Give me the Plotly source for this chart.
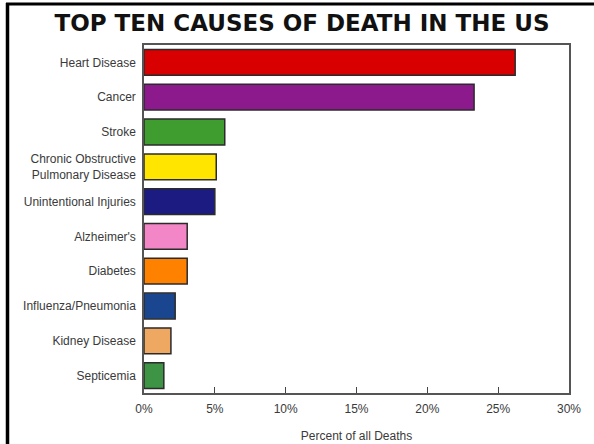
import plotly.graph_objects as go

# Leading causes of death, share of all deaths (%)
causes = [
    "Heart Disease",
    "Cancer",
    "Stroke",
    "Chronic Obstructive<br>Pulmonary Disease",
    "Unintentional Injuries",
    "Alzheimer's",
    "Diabetes",
    "Influenza/Pneumonia",
    "Kidney Disease",
    "Septicemia",
]
percent = [26.2, 23.3, 5.7, 5.1, 5.0, 3.05, 3.05, 2.2, 1.9, 1.4]
bar_colors = [
    "#d80000", "#8c1a8c", "#3f9c2e", "#ffe500", "#1b1b82",
    "#f386c6", "#ff8100", "#1a4690", "#eea862", "#3d9444",
]
x_ticks = [0, 5, 10, 15, 20, 25, 30]

W, H = 594, 444
ML, MR, MT, MB = 144, 25, 45, 51

fig = go.Figure(
    go.Bar(
        x=percent,
        y=causes,
        orientation="h",
        marker=dict(color=bar_colors, line=dict(color="#2b2b2b", width=1.5)),
        width=0.74,
        hoverinfo="x+y",
    )
)

fig.update_layout(
    width=W,
    height=H,
    margin=dict(l=ML, r=MR, t=MT, b=MB),
    paper_bgcolor="white",
    plot_bgcolor="white",
    showlegend=False,
    font=dict(family="Liberation Sans, Arial, sans-serif", size=12, color="#3a3a3a"),
    title=dict(
        text="<b>TOP TEN CAUSES OF DEATH IN THE US</b>",
        x=302 / W,
        xanchor="center",
        xref="container",
        y=1 - 23 / H,
        yanchor="middle",
        yref="container",
        font=dict(family="DejaVu Sans, sans-serif", size=23, color="#111111"),
    ),
)

fig.update_xaxes(
    range=[0, 30],
    tickvals=x_ticks,
    ticktext=[f"{v}%" for v in x_ticks],
    ticks="inside",
    ticklen=6,
    tickcolor="#444",
    ticklabelstandoff=4,
    showgrid=False,
    zeroline=False,
    showline=True,
    linecolor="#555",
    linewidth=1.5,
    mirror=True,
    automargin=False,
    tickfont=dict(size=12, color="#3a3a3a"),
    title=dict(text="Percent of all Deaths", font=dict(size=12, color="#3a3a3a"), standoff=16),
)

fig.update_yaxes(
    autorange="reversed",
    showgrid=False,
    zeroline=False,
    showline=True,
    linecolor="#555",
    linewidth=1.5,
    mirror=True,
    automargin=False,
    ticks="",
    ticklabelstandoff=4,
    tickfont=dict(size=12, color="#3a3a3a"),
)

# Heavy black edge along the left and top of the page
pw = W - ML - MR
ph = H - MT - MB
def px_x(v):
    return (v - ML) / pw
def px_y(v):
    return 1 - (v - MT) / ph

fig.add_shape(type="line", xref="paper", yref="paper",
              x0=px_x(7.5), x1=px_x(7.5), y0=px_y(3), y1=px_y(H),
              line=dict(color="black", width=3.5))
fig.add_shape(type="line", xref="paper", yref="paper",
              x0=px_x(6), x1=px_x(W), y0=px_y(4), y1=px_y(4),
              line=dict(color="black", width=3))

fig.write_html("out.html")
